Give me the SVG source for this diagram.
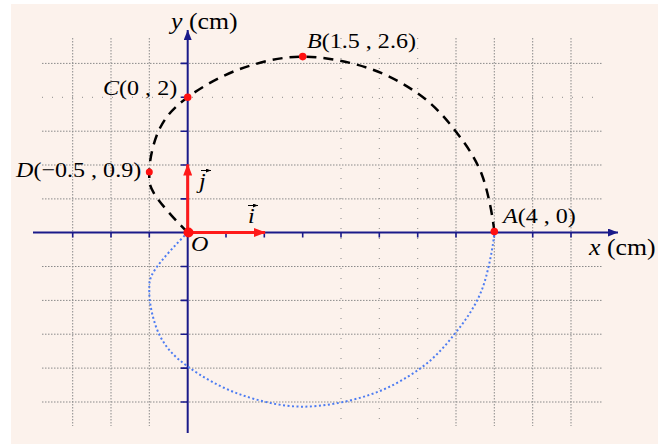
<svg xmlns="http://www.w3.org/2000/svg" width="670" height="444" viewBox="0 0 670 444">
<style>
.grid{stroke:#8a8a8a;stroke-width:1;stroke-dasharray:1.5 1.5;fill:none}
.sparse{stroke:#8a8a8a;stroke-width:1;stroke-dasharray:1 9;fill:none}
.axis{stroke:#1a1a8a;stroke-width:2;fill:none}
.tick{stroke:#1a1a8a;stroke-width:1.6}
.upper{fill:none;stroke:#000;stroke-width:2.5;stroke-dasharray:10 7}
.lower{fill:none;stroke:#4d7cf2;stroke-width:2;stroke-dasharray:2 2.5}
.vec{stroke:#ff1a1a;stroke-width:3;fill:none}
.pt{fill:#ff1010}
.lbl{font-family:"Liberation Serif","Times New Roman",serif;font-size:21.5px;fill:#000}
.ax{font-size:23px}
.it{font-style:italic}
</style>
<defs>
<marker id="axhead" viewBox="0 0 10 8" refX="10" refY="4" markerWidth="10" markerHeight="8" markerUnits="userSpaceOnUse" orient="auto">
<path d="M0,0 L10,4 L0,8 Z" fill="#1a1a8a"/>
</marker>
<marker id="vhead" viewBox="0 0 12 9" refX="11" refY="4.5" markerWidth="12" markerHeight="9" markerUnits="userSpaceOnUse" orient="auto">
<path d="M0,0 L12,4.5 L0,9 Z" fill="#ff1a1a"/>
</marker>
<marker id="shead" viewBox="0 0 5 4" refX="5" refY="2" markerWidth="5" markerHeight="4" markerUnits="userSpaceOnUse" orient="auto">
<path d="M0,0 L5,2 L0,4 Z" fill="#000"/>
</marker>
</defs>
<rect x="0" y="0" width="670" height="444" fill="#ffffff"/>
<rect x="11" y="4" width="647" height="440" fill="#fcf2ec"/>
<g id="grid">
<line class="grid" x1="42" y1="63.4" x2="602" y2="63.4"/>
<line class="sparse" x1="42" y1="97.3" x2="602" y2="97.3"/>
<line class="grid" x1="42" y1="131.2" x2="602" y2="131.2"/>
<line class="grid" x1="42" y1="165" x2="602" y2="165"/>
<line class="grid" x1="42" y1="198.9" x2="602" y2="198.9"/>
<line class="grid" x1="42" y1="266.5" x2="602" y2="266.5"/>
<line class="grid" x1="42" y1="300.4" x2="602" y2="300.4"/>
<line class="grid" x1="42" y1="334.2" x2="602" y2="334.2"/>
<line class="grid" x1="42" y1="368.1" x2="602" y2="368.1"/>
<line class="grid" x1="42" y1="402" x2="602" y2="402"/>
<line class="grid" x1="72.7" y1="38" x2="72.7" y2="426"/>
<line class="grid" x1="111" y1="38" x2="111" y2="426"/>
<line class="grid" x1="149.3" y1="38" x2="149.3" y2="426"/>
<line class="sparse" x1="341" y1="38" x2="341" y2="426"/>
<line class="sparse" x1="379.3" y1="38" x2="379.3" y2="426"/>
<line class="sparse" x1="417.7" y1="38" x2="417.7" y2="426"/>
<line class="grid" x1="456" y1="38" x2="456" y2="426"/>
<line class="grid" x1="494.3" y1="38" x2="494.3" y2="426"/>
<line class="grid" x1="532.7" y1="38" x2="532.7" y2="426"/>
<line class="grid" x1="571" y1="38" x2="571" y2="426"/>
</g>
<g id="axes">
<line class="axis" x1="33" y1="232.5" x2="618" y2="232.5" marker-end="url(#axhead)"/>
<line class="axis" x1="187.7" y1="433" x2="187.7" y2="30" marker-end="url(#axhead)"/>
<path class="tick" d="M72.7,232.5v5M111,232.5v5M149.3,232.5v5M226,232.5v5M264.3,232.5v5M302.7,232.5v5M341,232.5v5M379.3,232.5v5M417.7,232.5v5M456,232.5v5M494.3,232.5v5M532.7,232.5v5M571,232.5v5"/>
<path class="tick" d="M187.7,63.4h-7M187.7,97.3h-7M187.7,131.2h-7M187.7,165h-7M187.7,198.9h-7M187.7,266.5h-7M187.7,300.4h-7M187.7,334.2h-7M187.7,368.1h-7M187.7,402h-7"/>
</g>
<g id="connectors">
<path class="upper" d="M187.7,232.5 C177.7,222.5 161.4,205 155,195 C148.6,184.6 149.3,182.5 149.3,171.6 C149.3,160.4 153.6,140.3 160,128 C166.4,115.6 174.4,107 187.7,97.2 C201,87.4 220.8,75.8 240,69 C259.2,62.2 281.4,56.6 302.7,56.6 C324,56.6 348.4,61.6 368,68 C387.6,74.4 405.3,84.4 420,95 C434.7,105.6 445.7,118.4 456,131.7 C466.3,145 475.6,158.2 482,175 C488.4,191.8 493.8,222.5 494.3,232.5"/>
<path class="lower" transform="matrix(1 0 0 -0.99 0 462.7)" d="M187.7,232.5 C177.7,222.5 161.4,205 155,195 C148.6,184.6 149.3,182.5 149.3,171.6 C149.3,160.4 153.6,140.3 160,128 C166.4,115.6 174.4,107 187.7,97.2 C201,87.4 220.8,75.8 240,69 C259.2,62.2 281.4,56.6 302.7,56.6 C324,56.6 348.4,61.6 368,68 C387.6,74.4 405.3,84.4 420,95 C434.7,105.6 445.7,118.4 456,131.7 C466.3,145 475.6,158.2 482,175 C488.4,191.8 493.8,222.5 494.3,232.5"/>
<line class="vec" x1="187.7" y1="232.5" x2="265" y2="232.5" marker-end="url(#vhead)"/>
<line class="vec" x1="187.7" y1="232.5" x2="187.7" y2="164.5" marker-end="url(#vhead)"/>
</g>
<g id="O">
<circle class="pt" cx="188.5" cy="232.5" r="5"/>
<text class="lbl it" transform="translate(191,251) scale(1.12,1)">O</text>
</g>
<g id="A">
<circle class="pt" cx="494.3" cy="231.5" r="3.8"/>
<text class="lbl" transform="translate(503,223) scale(1.12,1)"><tspan class="it">A</tspan>(4 , 0)</text>
</g>
<g id="B">
<circle class="pt" cx="302.7" cy="56.6" r="3.8"/>
<text class="lbl" transform="translate(307,48) scale(1.12,1)"><tspan class="it">B</tspan>(1.5 , 2.6)</text>
</g>
<g id="C">
<circle class="pt" cx="187.7" cy="97.2" r="3.8"/>
<text class="lbl" transform="translate(103,94.5) scale(1.12,1)"><tspan class="it">C</tspan>(0 , 2)</text>
</g>
<g id="D">
<circle class="pt" cx="149.3" cy="172" r="3.5"/>
<text class="lbl" transform="translate(16,177) scale(1.12,1)"><tspan class="it">D</tspan>(−0.5 , 0.9)</text>
</g>
<g id="i-vec">
<text class="lbl it" transform="translate(248,223) scale(1.12,1)">i</text>
<line x1="248" y1="205.5" x2="258" y2="205.5" stroke="#000" stroke-width="1" marker-end="url(#shead)"/>
</g>
<g id="j-vec">
<text class="lbl it" transform="translate(199,188) scale(1.12,1)">j</text>
<line x1="201" y1="170.5" x2="211" y2="170.5" stroke="#000" stroke-width="1" marker-end="url(#shead)"/>
</g>
<g id="x-label">
<text class="lbl ax" transform="translate(589,255) scale(1.12,1)"><tspan class="it">x</tspan> (cm)</text>
</g>
<g id="y-label">
<text class="lbl ax" transform="translate(171,29) scale(1.12,1)"><tspan class="it">y</tspan> (cm)</text>
</g>
</svg>
